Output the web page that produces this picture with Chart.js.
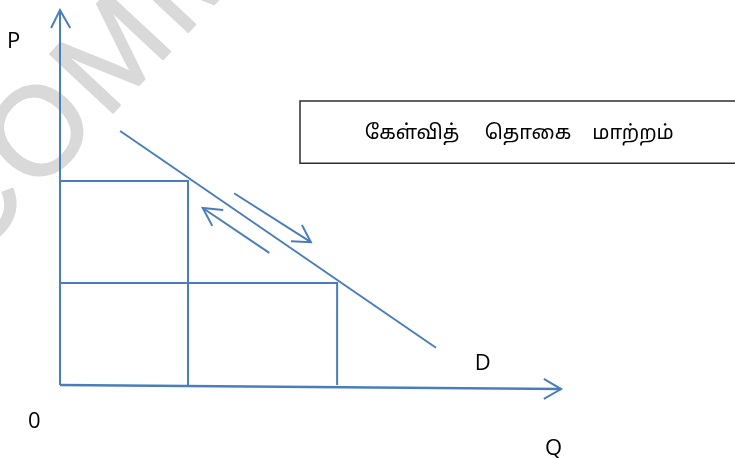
<!DOCTYPE html>
<html>
<head>
<meta charset="utf-8">
<script src="https://cdn.jsdelivr.net/npm/chart.js@4/dist/chart.umd.min.js"></script>
<style>
  html, body { margin: 0; padding: 0; background: #fff; }
</style>
</head>
<body>
<canvas id="diagram" width="735" height="458"></canvas>
<script>
// values (Q along x, P along y)
const quantities = [2, 4.33];        // Q1, Q2
const prices = [4, 2];               // P1, P2
const demandQ = [0.94, 5.875];       // ends of the D line
const demandP = [4.98, 0.73];
const yAxisTop = 7.35;
const xAxisEnd = [7.83, -0.08];      // x axis runs slightly downhill
// small arrows beside the demand line
const downArrow = { from: [2.72, 3.76], to: [3.92, 2.80], wings: [[3.78, 3.14], [3.61, 2.82]] };
const upArrow = { from: [3.27, 2.59], to: [2.23, 3.47], wings: [[2.55, 3.43], [2.38, 3.12]] };
const boxWords = ["கேள்வித்", "தொகை", "மாற்றம்"];

const blue = "#4a7ebb";
const pt = (a) => ({ x: a[0], y: a[1] });
const seg = (pts, w) => ({
  data: pts,
  showLine: true,
  borderColor: blue,
  borderWidth: w || 2,
  pointRadius: 0,
  fill: false,
  tension: 0
});

const datasets = [];
// axes with arrow heads
datasets.push(seg([{ x: 0, y: 0 }, { x: 0, y: yAxisTop }], 2));
datasets.push(seg([{ x: -0.14, y: yAxisTop - 0.35 }, { x: 0, y: yAxisTop }, { x: 0.16, y: yAxisTop - 0.35 }], 2));
datasets.push(seg([{ x: 0, y: 0 }, pt(xAxisEnd)], 2.5));
datasets.push(seg([{ x: xAxisEnd[0] - 0.27, y: xAxisEnd[1] + 0.2 }, pt(xAxisEnd), { x: xAxisEnd[0] - 0.27, y: xAxisEnd[1] - 0.19 }], 2));
// price / quantity guides
quantities.forEach((q, i) => {
  datasets.push(seg([{ x: 0, y: prices[i] }, { x: q, y: prices[i] }, { x: q, y: 0 }]));
});
// demand curve
datasets.push(seg(demandQ.map((q, i) => ({ x: q, y: demandP[i] }))));
// movement arrows
[downArrow, upArrow].forEach(a => {
  datasets.push(seg([pt(a.from), pt(a.to)]));
  datasets.push(seg([pt(a.wings[0]), pt(a.to), pt(a.wings[1])]));
});

const labelFont = '22px "Open Sans", sans-serif';

const extras = {
  id: "extras",
  beforeDatasetsDraw(chart) {
    const ctx = chart.ctx;
    // faint watermark
    ctx.save();
    ctx.translate(-30, 266);
    ctx.rotate(-0.82);
    ctx.fillStyle = "#d9d9d9";
    ctx.strokeStyle = "#d9d9d9";
    ctx.lineWidth = 2;
    ctx.lineJoin = "round";
    ctx.letterSpacing = "6px";
    ctx.font = '125px "Liberation Sans", sans-serif';
    ctx.textBaseline = "alphabetic";
    ctx.fillText("COMMERCE", 0, 0);
    ctx.strokeText("COMMERCE", 0, 0);
    ctx.restore();
  },
  afterDatasetsDraw(chart) {
    const ctx = chart.ctx;
    const sx = chart.scales.x, sy = chart.scales.y;
    const px = (v) => sx.getPixelForValue(v);
    const py = (v) => sy.getPixelForValue(v);

    ctx.save();
    ctx.fillStyle = "#000";
    ctx.font = labelFont;
    ctx.textAlign = "left";
    ctx.textBaseline = "alphabetic";
    ctx.fillText("P", px(-0.83), py(6.61));
    ctx.fillText("0", px(-0.5), py(-0.84));
    ctx.fillText("D", px(6.48), py(0.29));
    ctx.fillText("Q", px(7.58), py(-1.37));

    // caption box
    const left = px(3.75), top = py(5.57), bottom = py(4.35);
    ctx.strokeStyle = "#2e2e2e";
    ctx.lineWidth = 1.5;
    ctx.beginPath();
    ctx.moveTo(chart.width + 2, top);
    ctx.lineTo(left, top);
    ctx.lineTo(left, bottom);
    ctx.lineTo(chart.width + 2, bottom);
    ctx.stroke();

    ctx.font = '20px "Noto Sans Tamil", "Lohit Tamil", "Noto Sans", sans-serif';
    ctx.textAlign = "center";
    const centres = [412, 528, 633];
    boxWords.forEach((w, i) => ctx.fillText(w, centres[i], (top + bottom) / 2 + 7));
    ctx.restore();
  }
};

new Chart(document.getElementById("diagram"), {
  type: "scatter",
  data: { datasets: datasets },
  options: {
    responsive: false,
    animation: false,
    layout: { padding: 0 },
    plugins: { legend: { display: false }, tooltip: { enabled: false } },
    scales: {
      x: { type: "linear", display: false, min: -60 / 64, max: 675 / 64 },
      y: { type: "linear", display: false, min: -73 / 51, max: 385 / 51 }
    }
  },
  plugins: [extras]
});
</script>
</body>
</html>
